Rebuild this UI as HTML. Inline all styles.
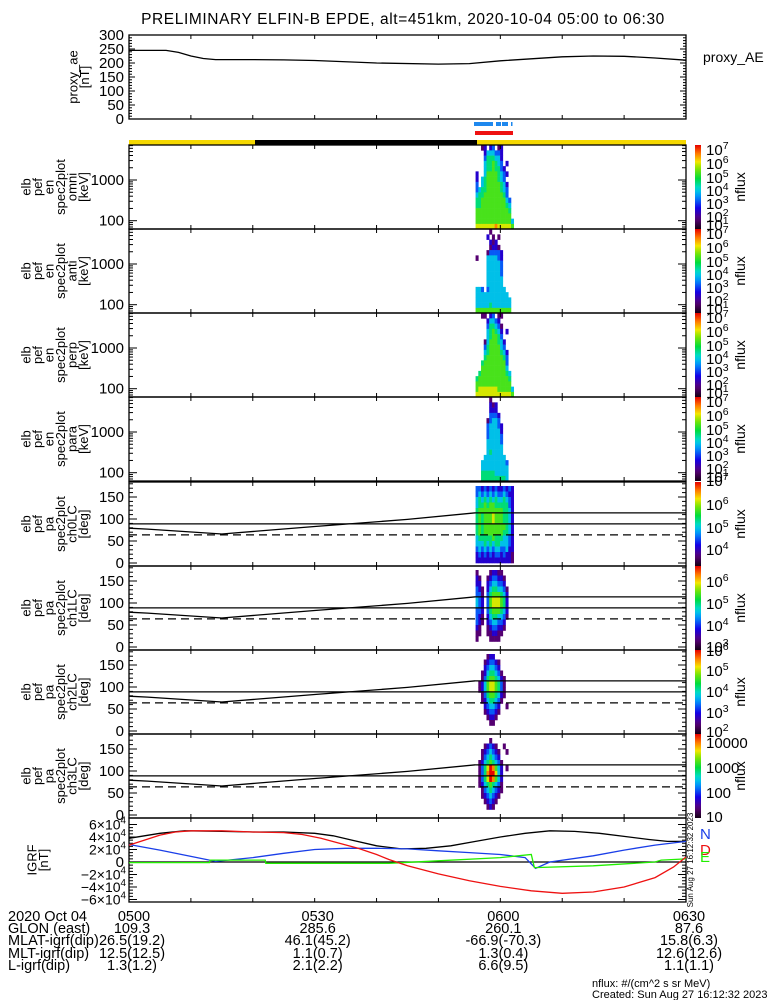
<!DOCTYPE html>
<html><head><meta charset="utf-8"><style>
html,body{margin:0;padding:0;background:#fff}
svg{display:block;font-family:"Liberation Sans",sans-serif}
</style></head><body>
<svg id="c" width="775" height="1000" viewBox="0 0 775 1000">
<text x="403" y="24" font-size="15.5" text-anchor="middle" letter-spacing="0.6">PRELIMINARY ELFIN-B EPDE, alt=451km, 2020-10-04 05:00 to 06:30</text>
</svg>
<script>
// ---------- data ----------
const aeMin = [0,6,8,10,12,14,20,25,30,40,50,55,60,65,70,75,80,85,90];
const aeVal = [245,245,238,225,216,212,212,211,209,200,196,198,208,215,222,225,224,218,210];
const igrfT = [0,5,9,15,20,25,30,33,36,40,44,48,52,56,60,64,68,72,76,80,84,87,90];
const igrfTot = [38,46,50,49,48,48,46,42,35,26,21,22,26,33,40,46,50,49,46,41,36,33,33];
const dT = [0,2.5,5,7.5,10,15,20,25,28,31,34,37,40,42,45,50,55,60,65,70,75,80,85,88,90];
const igrfD = [27,35,43,48,50,50,48,47,44,38,30,22,12,4,-6,-19,-30,-39,-46,-50,-48,-40,-25,-8,8];
const nT = [0,5,10,14,20,25,30,35,40,45,50,55,60,64,65.7,68,75,80,85,90];
const igrfN = [28,19,9,1,7,14,20,22,22,21,18,15,12,7,-10,0,10,19,27,33];
const eT = [0,13,13.1,22,22.1,42,50,60,65,65.5,75,85,86,90];
const igrfE = [-1,-1,3,3,-2,-2,2,7,12,-9,-6,0,3,5];
const paCurveT = [0,3,15,30,45,56];
const paCurveV = [79,77,66,83,99,114];
const footTimes = ["0500","0530","0600","0630"];
const footMin = [0,30,60,90];
const glon = ["109.3","285.6","260.1","87.6"];
const mlat = ["26.5(19.2)","46.1(45.2)","-66.9(-70.3)","15.8(6.3)"];
const mlt = ["12.5(12.5)","1.1(0.7)","1.3(0.4)","12.6(12.6)"];
const lval = ["1.3(1.2)","2.1(2.2)","6.6(9.5)","1.1(1.1)"];
const specOmni = ["00120230120000","00024443320000","00035554420000","00045565430200","00045565532000","20046666543200","20456666543000","30456666654200","34556666654300","45566666665300","55666666666430","55666666666540","66666666666650","66666666666660","66666666666664","77777778777776"];
const specAnti = ["00000100000000","00002010100000","00000212000000","00000122100000","00001333320000","10004444320000","00004444430000","00004444430000","00004444430000","00004444440000","00004444440000","44303444444000","44444444444400","44444444444440","44444544444440","66666666666660"];
const specPerp = ["00110230110000","00002443200000","00003554310000","00004565420200","00004566530000","00014666542000","00035666643000","00045666654200","00056666665300","00566666666300","00666666666400","05666666666540","56666666666650","66666666666660","67777777666664","77777777777776"];
const specPara = ["00000100000000","00000212000000","00000222000000","00000333200000","00001344300000","00003444320000","00003444420000","00003444430000","00004444430000","00004444440000","00004544440000","00044444444000","00444444444300","00444444444400","00555554444400","00555555555400"];
const pa0 = ["33232323223232","34343434334322","45454545445432","45565665555532","56666666665542","56566676665542","56566676665542","56566666666542","56566666665542","45555565554432","44454545544432","34343434433422","23232323323221","22222222222221"];
const pa1 = ["10000122110000","21001233221000","22002344332000","32102455443100","33103566654200","43203677765200","43203677765200","33203566654200","32102455443100","32102344332000","21001233221000","11001122110000","10000111100000","00000000000000"];
const pa2 = ["00001220000000","00012332100000","00023443200000","00124554310000","00135665421000","01246776531000","01246776531000","00135665421000","00124554310000","00023443200100","00012332100000","00001221000000","00000110000000","00000000000000"];
const pa3 = ["00000100000000","00012321001000","00123432100100","00134543200000","01245654310000","01357986420100","01358997420000","01357986420000","01245654310000","00134543210000","00123432100000","00012321000000","00001210000000","00000000000000"];
const colStart = 56.0, colStep = 0.44;

// ---------- helpers ----------
const NS="http://www.w3.org/2000/svg";
const svg=document.getElementById('c');
const X0=129, X1=686;
function X(m){return X0+(m/90)*(X1-X0);}
function mk(tag,attrs,parent){const e=document.createElementNS(NS,tag);for(const k in attrs)e.setAttribute(k,attrs[k]);(parent||svg).appendChild(e);return e;}
function line(x1,y1,x2,y2,c,w,extra){const e=mk('line',Object.assign({x1,y1,x2,y2,stroke:c||'#000','stroke-width':w||1},extra||{}));return e;}
function txt(x,y,s,size,anchor,fill){const e=mk('text',{x,y,'font-size':size||13,'text-anchor':anchor||'start',fill:fill||'#000'});e.textContent=s;return e;}
const stops=[[0,[20,0,20]],[0.12,[90,0,120]],[0.25,[20,0,230]],[0.38,[0,140,255]],[0.48,[0,220,220]],[0.6,[0,220,60]],[0.72,[130,230,0]],[0.8,[245,230,0]],[0.9,[255,120,0]],[1,[230,0,0]]];
function cmap(t){for(let i=1;i<stops.length;i++){if(t<=stops[i][0]){const a=stops[i-1],b=stops[i];const f=(t-a[0])/(b[0]-a[0]);const c=a[1].map((v,k)=>Math.round(v+(b[1][k]-v)*f));return `rgb(${c[0]},${c[1]},${c[2]})`;}}return 'rgb(230,0,0)';}
const defs=mk('defs',{});
const grad=mk('linearGradient',{id:'cb',x1:0,y1:1,x2:0,y2:0},defs);
for(let i=0;i<=20;i++)mk('stop',{offset:i/20,'stop-color':cmap(i/20)},grad);

function frame(top,bot,name){
  const r=mk('rect',{x:X0,y:top,width:X1-X0,height:bot-top,fill:'none',stroke:'#000','stroke-width':1.3});
  
  
  for(let m=10;m<90;m+=10){line(X(m),top,X(m),top+4);line(X(m),bot,X(m),bot-4);}
}
function yLabel(lines,cx,cy,name){
  const g=mk('g',{});
  
  
  const n=lines.length;
  lines.forEach((s,i)=>{const x=cx+(i-(n-1)/2)*11.5;const t=mk('text',{x:0,y:0,'font-size':13,'text-anchor':'middle',transform:`translate(${x+4},${cy}) rotate(-90)`},g);t.textContent=s;});
}
function supLabel(x,y,base,exp,size,name){
  const t=mk('text',{x,y,'font-size':size||15});
  
  
  const a=mk('tspan',{},t);a.textContent=base;
  const b=mk('tspan',{dy:-6,'font-size':(size||15)*0.7},t);b.textContent=exp;
  return t;
}
function colorbar(top,bot,labels,name){
  const r=mk('rect',{x:695,y:top,width:6,height:bot-top,fill:'url(#cb)'});
  
  
  labels.forEach(l=>{ if(l[2]) { const t=txt(706,l[0],l[1],15);   } else supLabel(706,l[0],'10',l[1],15,name+'-cb-label');});
  const nf=mk('text',{'font-size':14,'text-anchor':'middle',transform:`translate(745,${(top+bot)/2}) rotate(-90)`});
  nf.textContent='nflux';
  
  
}
function grid(rows,top,bot,yOf,binLo,binHi,name){
  const g=mk('g',{});
  
  
  const n=rows.length;
  rows.forEach((row,ri)=>{
    const bi=n-1-ri;
    const y1=yOf(binLo(bi)),y2=yOf(binHi(bi));
    for(let ci=0;ci<row.length;ci++){
      const d=+row[ci]; if(!d) continue;
      const x1=X(colStart+ci*colStep), x2=X(colStart+(ci+1)*colStep);
      const c=mk('rect',{x:x1,y:Math.min(y1,y2),width:x2-x1+0.3,height:Math.abs(y2-y1)+0.3,fill:cmap(d/9)},g);
      
      
    }
  });
}
function poly(ts,vs,xf,yf,color,name,extra){
  const p=ts.map((t,i)=>xf(t).toFixed(1)+','+yf(vs[i]).toFixed(1)).join(' ');
  const e=mk('polyline',Object.assign({points:p,fill:'none',stroke:color,'stroke-width':1.3},extra||{}));
  
  
}

// ---------- proxy AE ----------
const aeTop=35,aeBot=119;
function yAE(v){return aeBot-v*(aeBot-aeTop)/300;}
frame(aeTop,aeBot,'proxy-ae');
for(let v=0;v<=300;v+=10){const L=v%50===0?6:3;line(X0,yAE(v),X0+L,yAE(v));line(X1,yAE(v),X1-L,yAE(v));}
[300,250,200,150,100,50,0].forEach(v=>{const t=txt(124,yAE(v)+5,String(v),15,'end');});
poly(aeMin,aeVal,X,yAE,'#000','proxy-ae-line');
yLabel(['proxy_ae','[nT]'],79,77,'ae-y-axis-title');
{const t=txt(703,62,'proxy_AE',14);}

// ---------- status bars ----------
[[474,493],[496,501],[502,508],[511,512.5]].forEach(s=>{const r=mk('rect',{x:s[0],y:122,width:s[1]-s[0],height:4,fill:'#1e88ee'});});
{const r=mk('rect',{x:475,y:131,width:38,height:4,fill:'#ee1111'});}
[[X0,255,'#f5d800'],[255,477,'#000'],[477,X1,'#f5d800']].forEach(s=>{const r=mk('rect',{x:s[0],y:140,width:s[1]-s[0],height:4.5,fill:s[2]});});

// ---------- energy spectrograms ----------
const specPanels=[[specOmni,'omni'],[specAnti,'anti'],[specPerp,'perp'],[specPara,'para']];
const eLo=62,eHi=7200;
specPanels.forEach((sp,i)=>{
  const top=145+i*84,bot=top+84;
  const yE=e=>top+35-40.7*Math.log10(e/1000);
  const nb=sp[0].length;
  const edge=k=>eLo*Math.pow(eHi/eLo,k/nb);
  grid(sp[0],top,bot,yE,b=>edge(b),b=>edge(b+1),'spec-'+sp[1]);
  frame(top,bot,'spec-'+sp[1]);
  for(let dec=10;dec<=1000;dec*=10)for(let k=1;k<10;k++){const y=yE(dec*k);if(y<top||y>bot)continue;const L=k===1?8:4;line(X0,y,X0+L,y);line(X1,y,X1-L,y);}
  [[1000,'1000'],[100,'100']].forEach(v=>{const t=txt(124,yE(v[0])+5,v[1],15,'end');});
  yLabel(['elb','pef','en','spec2plot',sp[1],'[keV]'],55,top+42,'spec-'+sp[1]+'-y-title');
  colorbar(top,bot,[[top+10,'7'],[top+24,'6'],[top+38,'5'],[top+51,'4'],[top+64,'3'],[top+77,'2'],[top+85,'1']],'spec-'+sp[1]);
});

// ---------- pitch-angle spectrograms ----------
const paPanels=[[pa0,'ch0LC',[[486,'7'],[510,'6'],[533,'5'],[555,'4']]],[pa1,'ch1LC',[[587,'6'],[609,'5'],[631,'4'],[652,'3']]],[pa2,'ch2LC',[[656,'6'],[676,'5'],[697,'4'],[718,'3'],[737,'2']]],[pa3,'ch3LC',[[748,'10000',1],[773,'1000',1],[798,'100',1],[822,'10',1]]]];
paPanels.forEach((pp,i)=>{
  const top=482+i*84,bot=top+84;
  const yP=d=>bot-3-d*0.44;
  grid(pp[0],top,bot,yP,b=>b*12.5,b=>(b+1)*12.5,'pa-'+pp[1]);
  frame(top,bot,'pa-'+pp[1]);
  for(let d=0;d<=180;d+=10){const y=yP(d);if(y<top)continue;const L=d%50===0?8:4;line(X0,y,X0+L,y);line(X1,y,X1-L,y);}
  [150,100,50,0].forEach(v=>{const t=txt(124,yP(v)+5,String(v),15,'end');});
  poly(paCurveT,paCurveV,X,yP,'#000','loss-cone-curve');
  const l1=line(X(56),yP(114),X1,yP(114),'#000',1.3);
  const l2=line(X0,yP(89),X1,yP(89),'#000',1.3);
  const l3=line(X0,yP(64),X1,yP(64),'#000',1.3,{'stroke-dasharray':'8,5'});
  yLabel(['elb','pef','pa','spec2plot',pp[1],'[deg]'],55,top+42,'pa-'+pp[1]+'-y-title');
  colorbar(top,bot,pp[2],'pa-'+pp[1]);
});

// ---------- IGRF ----------
const gTop=818,gBot=902;
function yG(v){return 862-v*(37.5/60);}
frame(gTop,gBot,'igrf');
for(let v=-60;v<=60;v+=5){const y=yG(v);if(y<gTop||y>gBot)continue;const L=v%20===0?8:4;line(X0,y,X0+L,y);line(X1,y,X1-L,y);}
line(X0,yG(0),X1,yG(0),'#000',1.3);
poly(igrfT,igrfTot,X,yG,'#000','igrf-total-line');
poly(nT,igrfN,X,yG,'#1a3ee8','igrf-n-line');
poly(eT,igrfE,X,yG,'#22ee00','igrf-e-line');
poly(dT,igrfD,X,yG,'#ee1111','igrf-d-line');
[[60,'6×10','4'],[40,'4×10','4'],[20,'2×10','4'],[-20,'−2×10','4'],[-40,'−4×10','4'],[-60,'−6×10','4']].forEach(v=>{const t=supLabel(0,yG(v[0])+5,v[1],v[2],14,'igrf-y-tick');t.setAttribute('text-anchor','end');t.setAttribute('x',126);});
{const t=txt(124,yG(0)+5,'0',15,'end');}
yLabel(['IGRF','[nT]'],38,860,'igrf-y-title');
[['N','#1a3ee8',839],['D','#ee1111',855],['E','#22ee00',862]].forEach(l=>{const t=txt(700,l[2],l[0],15,'start',l[1]);});
{const t=mk('text',{'font-size':8,'text-anchor':'middle',transform:'translate(693,860) rotate(-90)'});t.textContent='Sun Aug 27 16:12:32 2023';}

// ---------- footer annotation ----------
const rowsY=[921,933,945,958,970];
[['2020 Oct 04',footTimes],['GLON (east)',glon],['MLAT-igrf(dip)',mlat],['MLT-igrf(dip)',mlt],['L-igrf(dip)',lval]].forEach((r,ri)=>{
  const t=txt(8,rowsY[ri],r[0],14.5);
  r[1].forEach((v,k)=>{const x=Math.min(X(footMin[k])+3,X1+3);const tt=txt(ri===0&&k===0?X0+5:x,rowsY[ri],v,14.5,'middle');});
});
{const t=txt(592,987,'nflux: #/(cm^2 s sr MeV)',11);}
{const t=txt(592,998,'Created: Sun Aug 27 16:12:32 2023',11);}
</script>
</body></html>
